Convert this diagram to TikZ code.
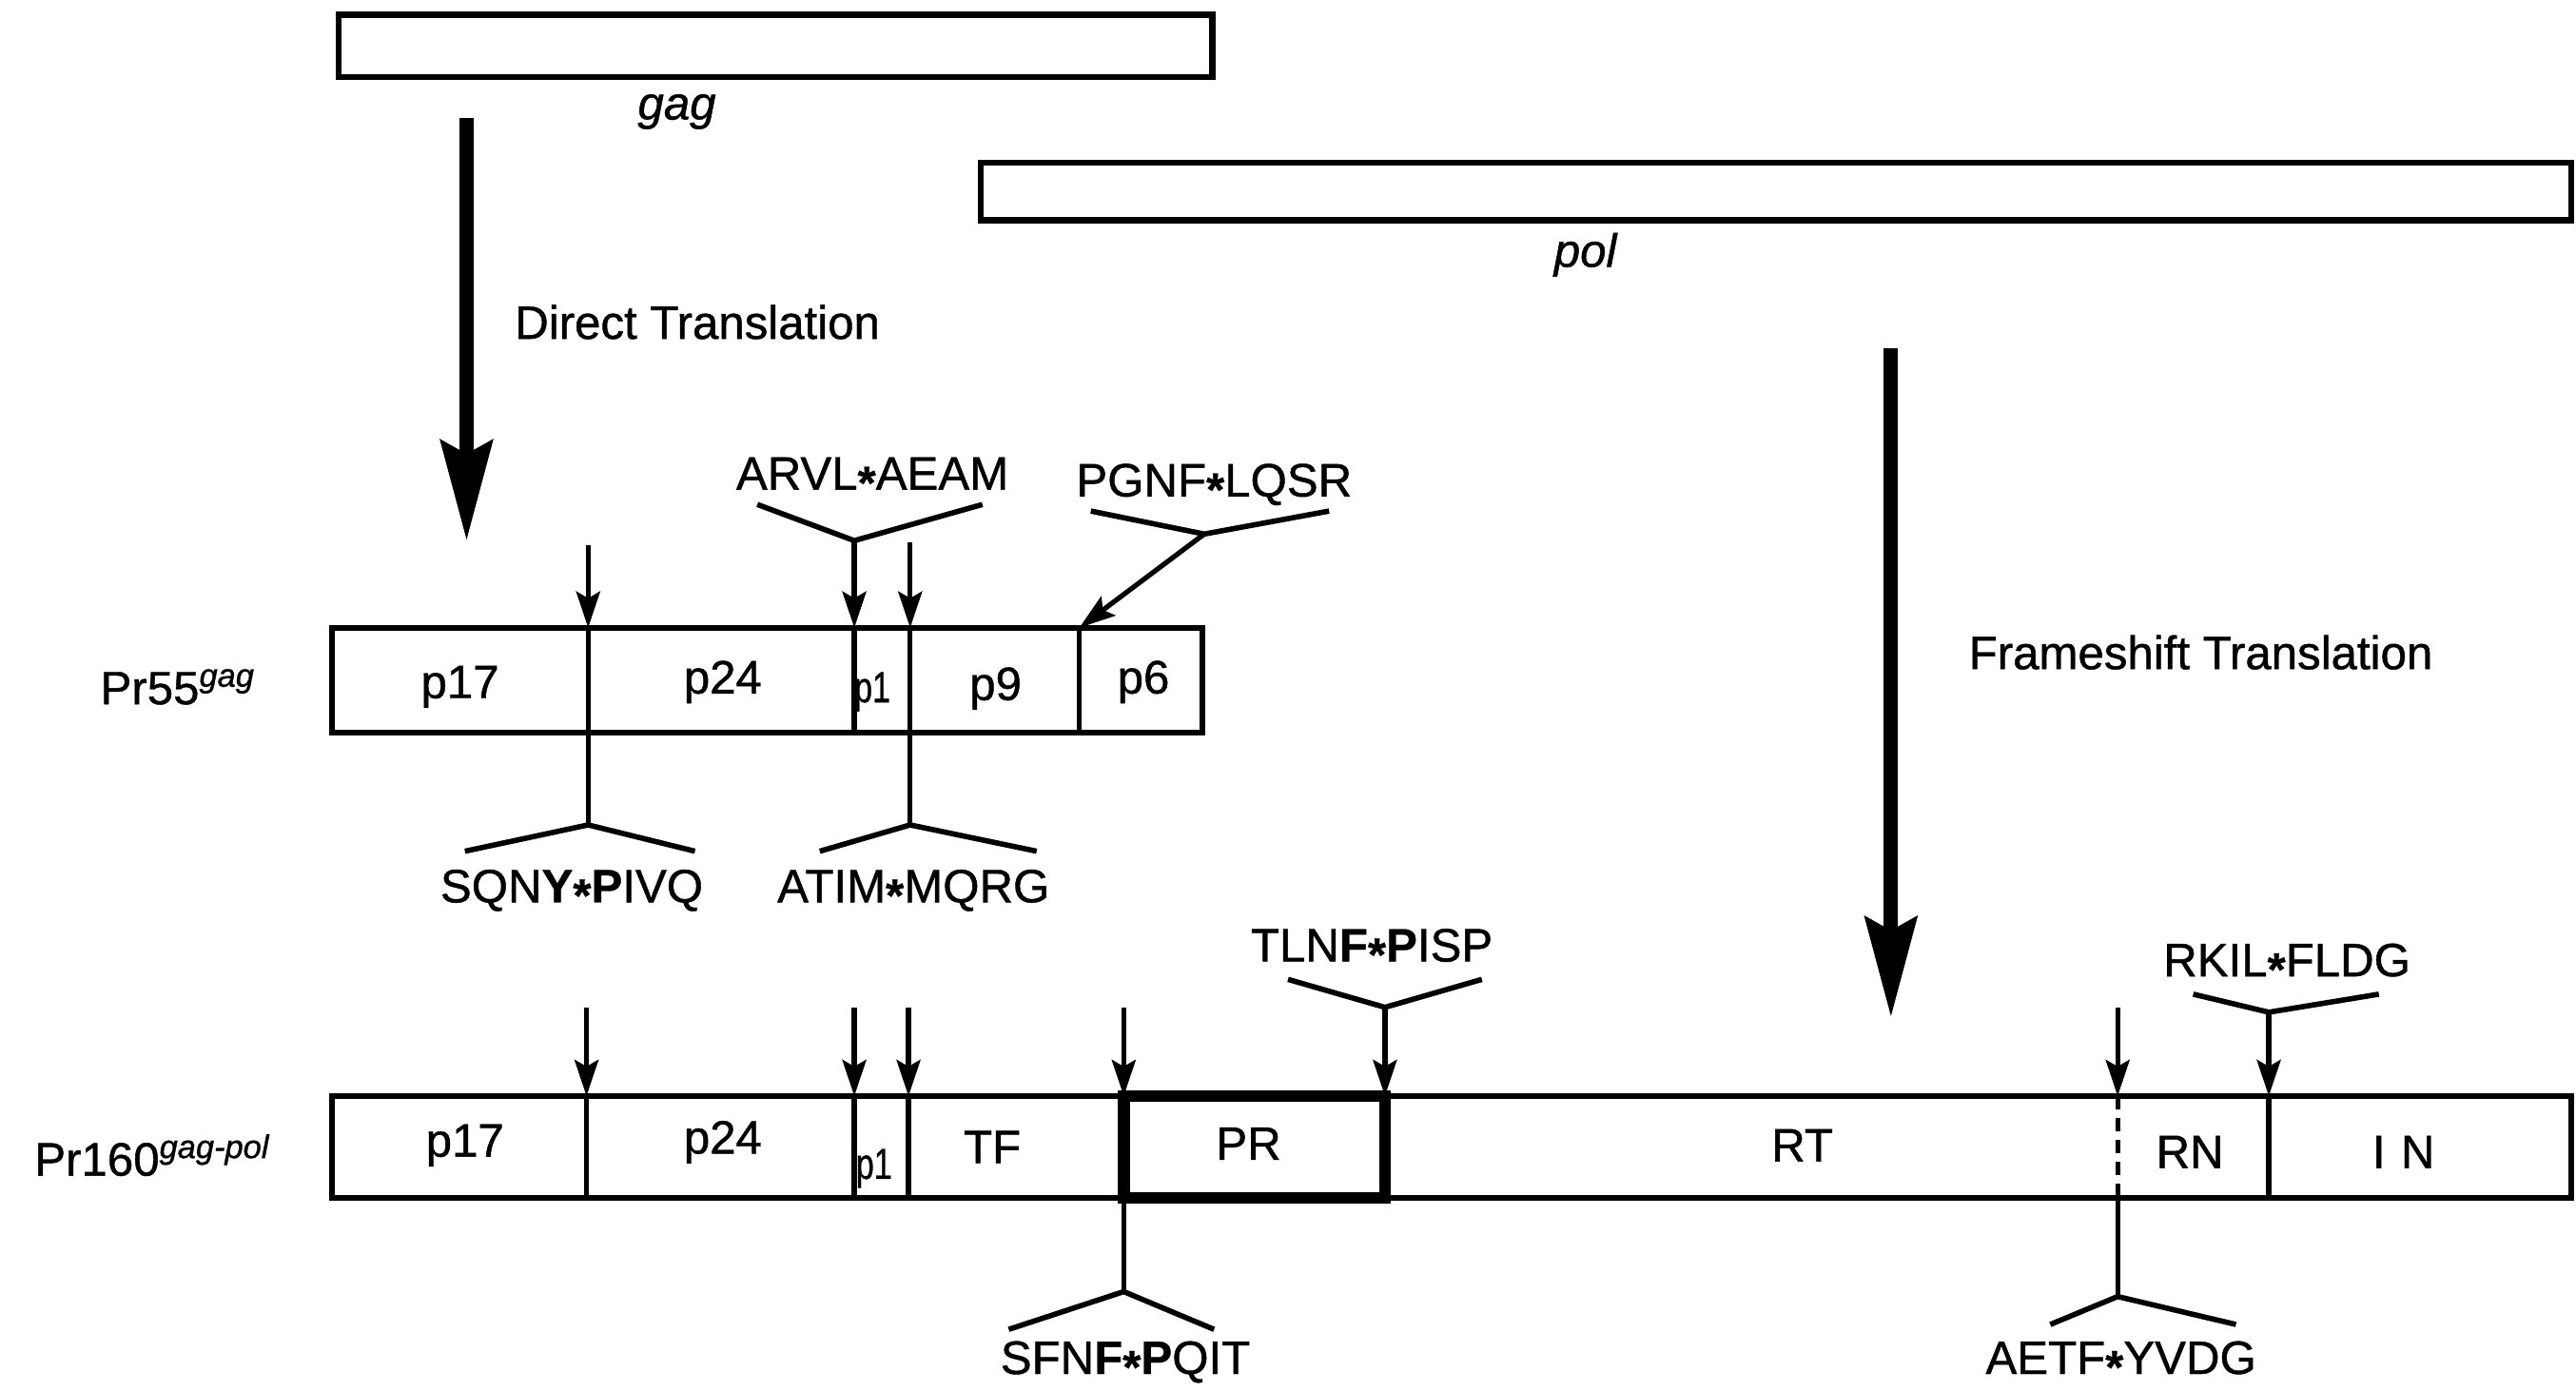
\documentclass[tikz,border=0pt]{standalone}
\usepackage{fontspec}
\setmainfont{Liberation Sans}[UprightFeatures={FakeBold=0.9},ItalicFeatures={FakeBold=0.9},BoldFeatures={FakeBold=0.6}]
\usetikzlibrary{arrows.meta}
\newcommand\cutmark{\raisebox{-0.2em}{\textbf{*}}}
\begin{document}
\begin{tikzpicture}[x=0.01727cm,y=-0.01727cm,
  genebox/.style={line width=1.8pt},
  protbox/.style={line width=1.6pt},
  prbox/.style={line width=3.6pt},
  divline/.style={line width=1.5pt},
  thinarrow/.style={line width=1.5pt,-{Stealth[length=3.8mm,width=2.5mm,inset=0.7mm]}},
  bigarrow/.style={line width=4.2pt,-{Stealth[length=10.5mm,width=5.4mm,inset=1.4mm]}},
  bracket/.style={line width=1.6pt,line join=miter},
  lab/.style={font=\fontsize{14}{16}\selectfont,inner sep=0pt},
  smalllab/.style={font=\fontsize{13}{15}\selectfont,inner sep=0pt}
]
\useasboundingbox (0,0) rectangle (1568,847);

% gene boxes
\draw[genebox] (206,9) rectangle (738,47);
\node[lab] (gaglab) at (412,68) {\itshape gag};
\draw[genebox] (597,99) rectangle (1565,134);
\node[lab] (pollab) at (965,155) {\itshape pol};

% translation arrows
\coordinate (dtA) at (284,72);
\coordinate (dtB) at (284,329);
\draw[bigarrow] (dtA) -- (dtB);
\node[lab,anchor=west] (dtlab) at (313,196) {Direct Translation};
\coordinate (fsA) at (1151,212);
\coordinate (fsB) at (1151,619);
\draw[bigarrow] (fsA) -- (fsB);
\node[lab,anchor=west] (fslab) at (1198,397) {Frameshift Translation};

% ---------------- Pr55gag ----------------
\node[lab,anchor=east] (pr55) at (156,418) {Pr55\textsuperscript{\itshape gag}};
\draw[protbox] (202,382) rectangle (732,446);
\coordinate (g6t) at (657,382);
\coordinate (g6b) at (657,446);
\draw[divline] (g6t) -- (g6b);
\node[lab] (p17a) at (280,418) {p17};
\node[lab] (p24a) at (440,415) {p24};
\node[smalllab] (p1a) at (531,421) {\scalebox{0.75}[1]{p1}};
\node[lab] (p9a) at (606,419) {p9};
\node[lab] (p6a) at (696,415) {p6};

% cleavage p17/p24 (SQNY*PIVQ)
\coordinate (a1t) at (358,332);
\coordinate (a1b) at (358,382);
\coordinate (a1x) at (358,502);
\draw[thinarrow] (a1t) -- (a1b);
\draw[divline] (a1b) -- (a1x);
\coordinate (a1l) at (283,518);
\coordinate (a1r) at (423,518);
\draw[bracket] (a1l) -- (a1x) -- (a1r);
\node[lab] (sqny) at (348,542) {SQN\textbf{Y}\cutmark\textbf{P}IVQ};

% ARVL*AEAM
\node[lab] (arvl) at (531,291) {ARVL\cutmark AEAM};
\coordinate (a2l) at (461,307);
\coordinate (a2x) at (520,329);
\coordinate (a2r) at (598,307);
\draw[bracket] (a2l) -- (a2x) -- (a2r);
\coordinate (a2b) at (520,382);
\coordinate (a2e) at (520,446);
\draw[thinarrow] (a2x) -- (a2b);
\draw[divline] (a2b) -- (a2e);

% ATIM*MQRG
\coordinate (a3t) at (554,330);
\coordinate (a3b) at (554,382);
\coordinate (a3x) at (554,502);
\draw[thinarrow] (a3t) -- (a3b);
\draw[divline] (a3b) -- (a3x);
\coordinate (a3l) at (499,518);
\coordinate (a3r) at (631,518);
\draw[bracket] (a3l) -- (a3x) -- (a3r);
\node[lab] (atim) at (556,542) {ATIM\cutmark MQRG};

% PGNF*LQSR
\node[lab] (pgnf) at (739,295) {PGNF\cutmark LQSR};
\coordinate (a4l) at (664,311);
\coordinate (a4x) at (733,325);
\coordinate (a4r) at (809,311);
\draw[bracket] (a4l) -- (a4x) -- (a4r);
\draw[thinarrow] (a4x) -- (g6t);

% ---------------- Pr160gag-pol ----------------
\node[lab,anchor=east] (pr160) at (165,703) {Pr160\textsuperscript{\itshape gag-pol}};
\draw[protbox,line width=1.9pt] (202,667) rectangle (1565,729);
\draw[prbox] (684,667) rectangle (843,729);
\node[lab] (p17b) at (283,697) {p17};
\node[lab] (p24b) at (440,695) {p24};
\node[smalllab] (p1b) at (532,711) {\scalebox{0.75}[1]{p1}};
\node[lab] (tfb) at (604,698) {TF};
\node[lab] (prb) at (760,696) {PR};
\node[lab] (rtb) at (1097,697) {RT};
\node[lab] (rnb) at (1333,701) {RN};
\node[lab] (inb) at (1463,701) {I\,\,N};

% p17/p24
\coordinate (b1t) at (357,613);
\coordinate (b1b) at (357,667);
\coordinate (b1e) at (357,729);
\draw[thinarrow] (b1t) -- (b1b);
\draw[divline] (b1b) -- (b1e);
% p24/p1
\coordinate (b2t) at (520,613);
\coordinate (b2b) at (520,667);
\coordinate (b2e) at (520,729);
\draw[thinarrow] (b2t) -- (b2b);
\draw[divline] (b2b) -- (b2e);
% p1/TF
\coordinate (b3t) at (553,613);
\coordinate (b3b) at (553,667);
\coordinate (b3e) at (553,729);
\draw[thinarrow] (b3t) -- (b3b);
\draw[divline] (b3b) -- (b3e);
% TF/PR  (SFNF*PQIT)
\coordinate (b4t) at (684,613);
\coordinate (b4b) at (684,667);
\coordinate (b4e) at (684,729);
\coordinate (b4x) at (684,786);
\draw[thinarrow] (b4t) -- (b4b);
\draw[divline] (b4e) -- (b4x);
\coordinate (b4l) at (614,809);
\coordinate (b4r) at (739,809);
\draw[bracket] (b4l) -- (b4x) -- (b4r);
\node[lab] (sfnf) at (685,829) {SFN\textbf{F}\cutmark\textbf{P}QIT};
% PR/RT  (TLNF*PISP)
\node[lab] (tlnf) at (835,578) {TLN\textbf{F}\cutmark\textbf{P}ISP};
\coordinate (b5l) at (784,596);
\coordinate (b5x) at (843,613);
\coordinate (b5r) at (902,596);
\draw[bracket] (b5l) -- (b5x) -- (b5r);
\coordinate (b5b) at (843,667);
\draw[thinarrow] (b5x) -- (b5b);
% RT/RN  (AETF*YVDG)
\coordinate (b6t) at (1289,613);
\coordinate (b6b) at (1289,667);
\coordinate (b6e) at (1289,729);
\coordinate (b6x) at (1289,789);
\draw[thinarrow] (b6t) -- (b6b);
\draw[divline,dash pattern=on 1.4mm off 0.9mm] (b6b) -- (b6e);
\draw[divline] (b6e) -- (b6x);
\coordinate (b6l) at (1248,806);
\coordinate (b6r) at (1361,806);
\draw[bracket] (b6l) -- (b6x) -- (b6r);
\node[lab] (aetf) at (1291,829) {AETF\cutmark YVDG};
% RN/IN  (RKIL*FLDG)
\node[lab] (rkil) at (1392,587) {RKIL\cutmark FLDG};
\coordinate (b7l) at (1335,605);
\coordinate (b7x) at (1381,616);
\coordinate (b7r) at (1448,605);
\draw[bracket] (b7l) -- (b7x) -- (b7r);
\coordinate (b7b) at (1381,667);
\coordinate (b7e) at (1381,729);
\draw[thinarrow] (b7x) -- (b7b);
\draw[divline] (b7b) -- (b7e);
\end{tikzpicture}
\end{document}
